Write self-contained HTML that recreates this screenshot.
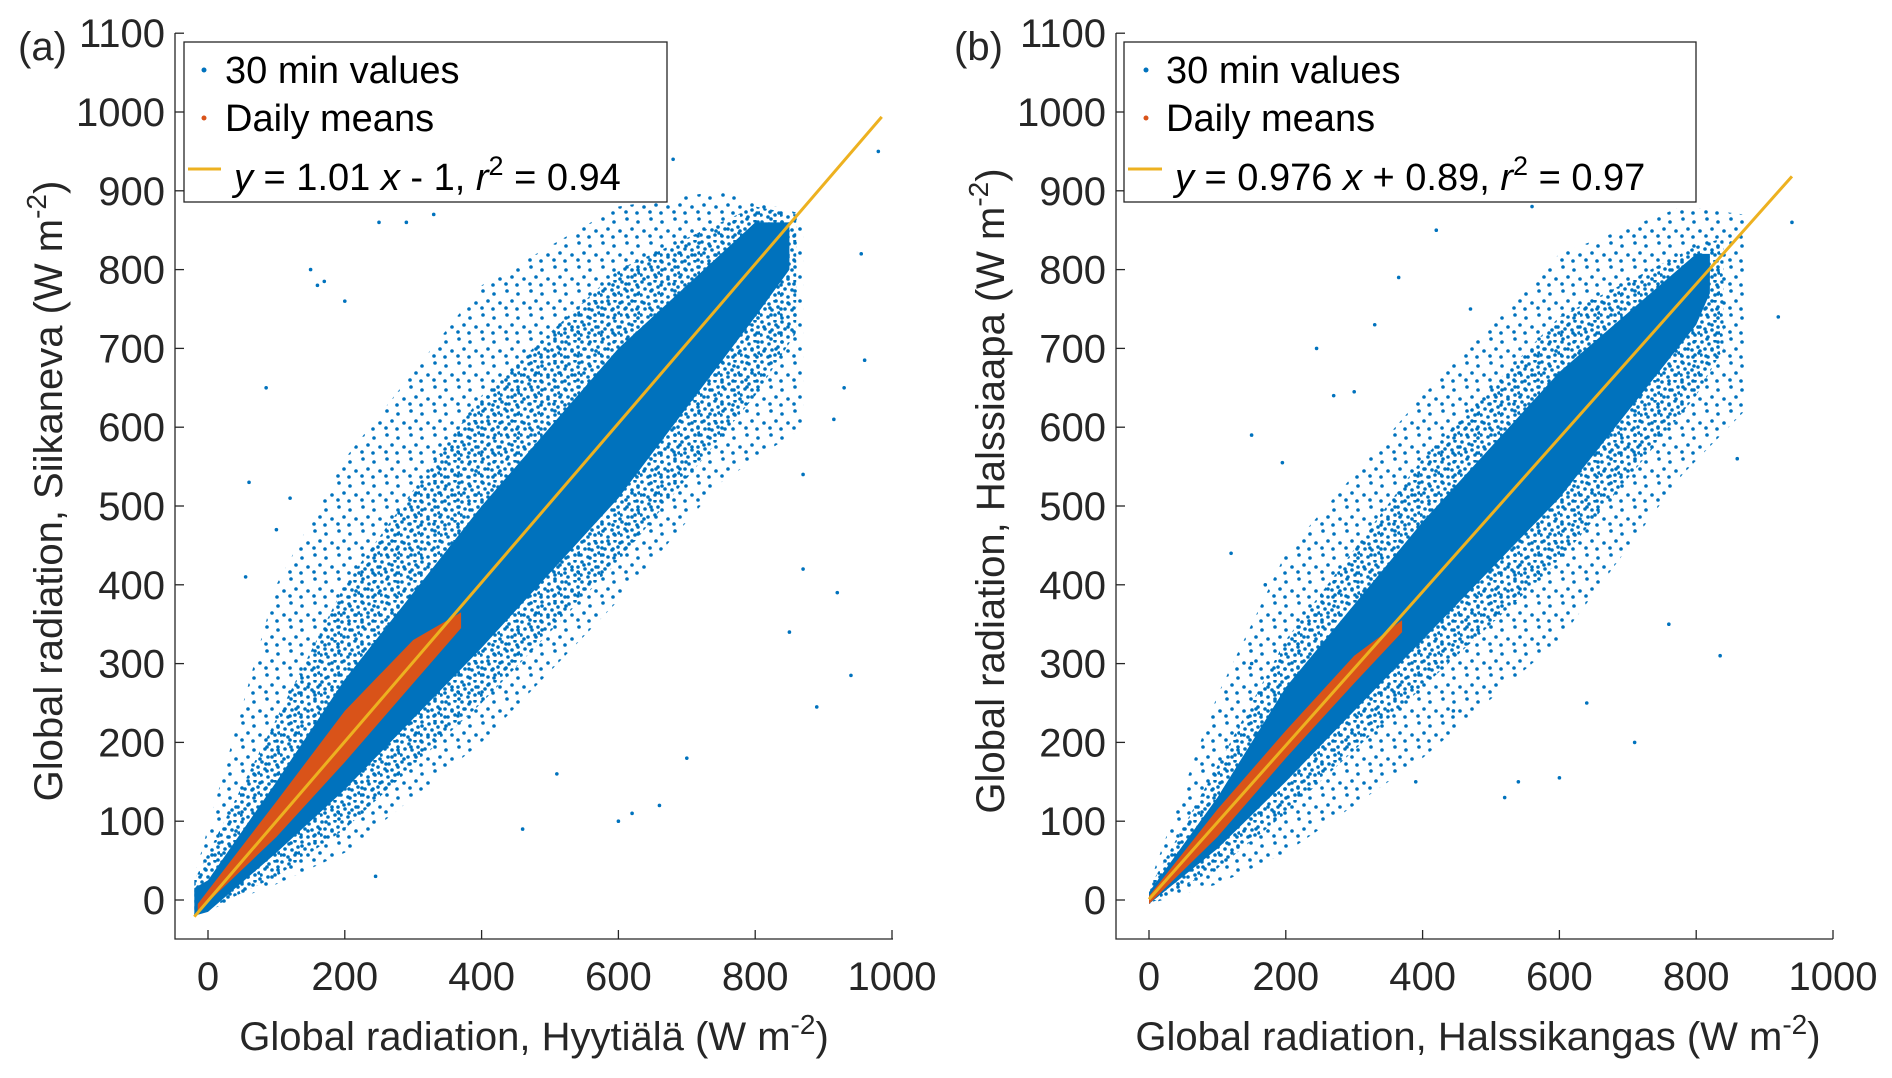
<!DOCTYPE html>
<html><head><meta charset="utf-8"><style>
html,body{margin:0;padding:0;background:#fff;}
svg{display:block;font-family:"Liberation Sans",Arial,sans-serif;}
</style></head><body>
<svg id="fig" width="1892" height="1078" viewBox="0 0 1892 1078" xmlns="http://www.w3.org/2000/svg">
<defs>
<pattern id="halo" width="20" height="20" patternUnits="userSpaceOnUse">
<circle cx="2" cy="2" r="1.8" fill="#0072BD"/><circle cx="9" cy="4" r="1.8" fill="#0072BD"/><circle cx="15" cy="1" r="1.8" fill="#0072BD"/>
<circle cx="5" cy="9" r="1.8" fill="#0072BD"/><circle cx="12" cy="10" r="1.8" fill="#0072BD"/><circle cx="18" cy="7" r="1.8" fill="#0072BD"/>
<circle cx="1" cy="15" r="1.8" fill="#0072BD"/><circle cx="8" cy="17" r="1.8" fill="#0072BD"/><circle cx="15" cy="15" r="1.8" fill="#0072BD"/>
<circle cx="19" cy="13" r="1.8" fill="#0072BD"/>
</pattern>
<pattern id="sparse" width="24" height="24" patternUnits="userSpaceOnUse">
<circle cx="3" cy="3" r="1.8" fill="#0072BD"/><circle cx="14" cy="6" r="1.8" fill="#0072BD"/>
<circle cx="8" cy="13" r="1.8" fill="#0072BD"/><circle cx="20" cy="15" r="1.8" fill="#0072BD"/>
<circle cx="2" cy="20" r="1.8" fill="#0072BD"/><circle cx="13" cy="21" r="1.8" fill="#0072BD"/>
</pattern>
</defs>
<g id="pa"></g>
<g id="pb"></g>
</svg>
<script>
// ---- data (panel a) ----
const xTicks = [0,200,400,600,800,1000];
const yTicks = [0,100,200,300,400,500,600,700,800,900,1000,1100];
const aSparseX = [-20,100,200,400,600,750,870,870];
const aSparseLo = [-20,20,60,200,380,530,600,830];
const aSparseHi = [30,400,560,780,880,900,870,850];
const aHaloX = [-20,100,200,400,600,800,860,860];
const aHaloLo = [-20,30,90,250,430,640,720,860];
const aHaloHi = [25,230,400,640,800,880,870,870];
const aCoreX = [-20,0,100,200,400,600,800,850,850];
const aCoreLo = [-20,-15,60,140,320,510,740,800,850];
const aCoreHi = [15,25,150,280,500,700,860,860,850];
const aDailyX = [-15,100,200,300,370,370];
const aDailyLo = [-15,80,175,275,345,365];
const aDailyHi = [-5,125,240,330,365,365];
const aOutX = [85,60,55,160,170,200,250,290,330,300,680,980,955,960,930,920,940,890,870,850,700,660,620,600,510,460,245,150,120,100,915,870];
const aOutY = [650,530,410,780,785,760,860,860,870,900,940,950,820,685,650,390,285,245,540,340,180,120,110,100,160,90,30,800,510,470,610,420];
const aFit = {slope:1.01, icpt:-1, x0:-20, x1:985};
// ---- data (panel b) ----
const bSparseX = [0,100,200,400,600,780,870,870];
const bSparseLo = [-5,20,60,180,330,540,620,820];
const bSparseHi = [20,260,440,640,820,880,870,850];
const bHaloX = [0,100,200,400,600,800,840,840];
const bHaloLo = [-5,40,110,270,430,640,700,840];
const bHaloHi = [15,170,330,560,740,830,840,840];
const bCoreX = [0,100,200,400,600,800,820,820];
const bCoreLo = [-5,65,150,330,510,730,770,820];
const bCoreHi = [10,130,270,480,670,820,820,820];
const bDailyX = [0,100,200,300,370,370];
const bDailyLo = [-5,80,180,275,340,355];
const bDailyHi = [5,115,215,310,355,355];
const bOutX = [150,195,170,245,270,300,330,365,420,560,920,940,835,710,640,600,520,445,390,540,120,860,760,150,470];
const bOutY = [590,555,400,700,640,645,730,790,850,880,740,860,310,200,250,155,130,240,150,150,440,560,350,300,750];
const bFit = {slope:0.976, icpt:0.89, x0:0, x1:940};

const NS="http://www.w3.org/2000/svg";
function mk(tag, attrs, parent){const e=document.createElementNS(NS,tag);for(const k in attrs)e.setAttribute(k,attrs[k]);parent.appendChild(e);return e;}

function panel(g, o){
  const sx=v=>o.x0+v*0.684, sy=v=>900-v*0.788;
  function band(X,Lo,Hi,fill,name){
    let pts=X.map((x,i)=>sx(x)+','+sy(Hi[i]));
    for(let i=X.length-1;i>=0;i--)pts.push(sx(X[i])+','+sy(Lo[i]));
    const p=mk('polygon',{points:pts.join(' '),fill:fill},g);
    
    
  }
  band(o.sX,o.sLo,o.sHi,'url(#sparse)','scatter-30min-sparse');
  band(o.hX,o.hLo,o.hHi,'url(#halo)','scatter-30min-halo');
  band(o.cX,o.cLo,o.cHi,'#0072BD','scatter-30min-core');
  o.oX.forEach((x,i)=>{
    const c=mk('circle',{cx:sx(x),cy:sy(o.oY[i]),r:1.8,fill:'#0072BD'},g);
    
    
  });
  band(o.dX,o.dLo,o.dHi,'#D95319','scatter-daily-means');
  const f=o.fit;
  const ln=mk('line',{x1:sx(f.x0),y1:sy(f.slope*f.x0+f.icpt),x2:sx(f.x1),y2:sy(f.slope*f.x1+f.icpt),stroke:'#EDB120','stroke-width':3},g);
  
  
  const ax=mk('path',{d:`M${o.axL},33 V939 H${o.axR}`,fill:'none',stroke:'#262626','stroke-width':1.3},g);
  
  
  xTicks.forEach(t=>{
    mk('line',{x1:sx(t),x2:sx(t),y1:939,y2:930,stroke:'#262626','stroke-width':1.3},g);
    const tx=mk('text',{x:sx(t),y:990,'text-anchor':'middle','font-size':40,fill:'#262626'},g);
    tx.textContent=t;
    
    
  });
  yTicks.forEach(t=>{
    mk('line',{x1:o.axL,x2:o.axL+9,y1:sy(t),y2:sy(t),stroke:'#262626','stroke-width':1.3},g);
    const tx=mk('text',{x:o.axL-10,y:sy(t)+14,'text-anchor':'end','font-size':40,fill:'#262626'},g);
    tx.textContent=t;
    
    
  });
}
panel(document.getElementById('pa'),{x0:208,axL:175,axR:893,sX:aSparseX,sLo:aSparseLo,sHi:aSparseHi,hX:aHaloX,hLo:aHaloLo,hHi:aHaloHi,cX:aCoreX,cLo:aCoreLo,cHi:aCoreHi,dX:aDailyX,dLo:aDailyLo,dHi:aDailyHi,oX:aOutX,oY:aOutY,fit:aFit});
panel(document.getElementById('pb'),{x0:1149,axL:1116,axR:1833,sX:bSparseX,sLo:bSparseLo,sHi:bSparseHi,hX:bHaloX,hLo:bHaloLo,hHi:bHaloHi,cX:bCoreX,cLo:bCoreLo,cHi:bCoreHi,dX:bDailyX,dLo:bDailyLo,dHi:bDailyHi,oX:bOutX,oY:bOutY,fit:bFit});
</script>
<svg width="1892" height="1078" style="position:absolute;left:0;top:0;font-family:'Liberation Sans',Arial,sans-serif" xml:space="preserve">
<text x="18" y="60" font-size="40" fill="#262626">(a)</text>
<text x="954" y="60" font-size="40" fill="#262626">(b)</text>
<text x="534" y="1050" font-size="40" text-anchor="middle" fill="#262626">Global radiation, Hyytiälä (W m<tspan dy="-16" font-size="28">-2</tspan><tspan dy="16">)</tspan></text>
<text x="1478" y="1050" font-size="40" text-anchor="middle" fill="#262626">Global radiation, Halssikangas (W m<tspan dy="-16" font-size="28">-2</tspan><tspan dy="16">)</tspan></text>
<text transform="translate(62,491) rotate(-90)" font-size="40" text-anchor="middle" fill="#262626">Global radiation, Siikaneva (W m<tspan dy="-16" font-size="28">-2</tspan><tspan dy="16">)</tspan></text>
<text transform="translate(1004,491) rotate(-90)" font-size="40" text-anchor="middle" fill="#262626">Global radiation, Halssiaapa (W m<tspan dy="-16" font-size="28">-2</tspan><tspan dy="16">)</tspan></text>
<g>
<rect x="184" y="42" width="483" height="160" fill="#fff" stroke="#262626" stroke-width="1.3"/>
<circle cx="204" cy="70" r="2.5" fill="#0072BD"/>
<text x="225" y="83" font-size="38" fill="#000">30 min values</text>
<circle cx="204" cy="118" r="2.5" fill="#D95319"/>
<text x="225" y="131" font-size="38" fill="#000">Daily means</text>
<line x1="188" x2="221" y1="169" y2="169" stroke="#EDB120" stroke-width="3"/>
<text x="234" y="190" font-size="38" fill="#000"><tspan font-style="italic">y</tspan> = 1.01 <tspan font-style="italic">x</tspan> - 1,  <tspan font-style="italic">r</tspan><tspan dy="-15" font-size="27">2</tspan><tspan dy="15"> = 0.94</tspan></text>
</g>
<g>
<rect x="1124" y="42" width="572" height="160" fill="#fff" stroke="#262626" stroke-width="1.3"/>
<circle cx="1146" cy="70" r="2.5" fill="#0072BD"/>
<text x="1166" y="83" font-size="38" fill="#000">30 min values</text>
<circle cx="1146" cy="118" r="2.5" fill="#D95319"/>
<text x="1166" y="131" font-size="38" fill="#000">Daily means</text>
<line x1="1128" x2="1162" y1="169" y2="169" stroke="#EDB120" stroke-width="3"/>
<text x="1175" y="190" font-size="38" fill="#000"><tspan font-style="italic">y</tspan> = 0.976 <tspan font-style="italic">x</tspan> + 0.89,  <tspan font-style="italic">r</tspan><tspan dy="-15" font-size="27">2</tspan><tspan dy="15"> = 0.97</tspan></text>
</g>
</svg>
</body></html>
